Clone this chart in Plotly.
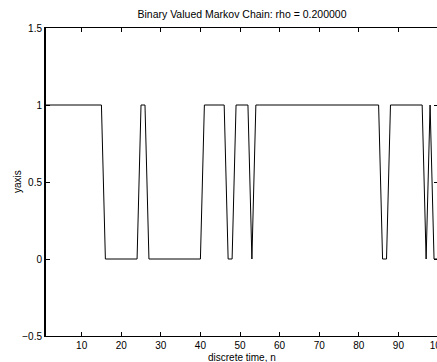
import plotly.graph_objects as go

# discrete time index
n = list(range(1, 101))

# binary Markov chain realisation
y_values = [
    1, 1, 1, 1, 1, 1, 1, 1, 1, 1,   # 1-10
    1, 1, 1, 1, 1, 0, 0, 0, 0, 0,   # 11-20
    0, 0, 0, 0, 1, 1, 0, 0, 0, 0,   # 21-30
    0, 0, 0, 0, 0, 0, 0, 0, 0, 0,   # 31-40
    1, 1, 1, 1, 1, 1, 0, 0, 1, 1,   # 41-50
    1, 1, 0, 1, 1, 1, 1, 1, 1, 1,   # 51-60
    1, 1, 1, 1, 1, 1, 1, 1, 1, 1,   # 61-70
    1, 1, 1, 1, 1, 1, 1, 1, 1, 1,   # 71-80
    1, 1, 1, 1, 1, 0, 0, 1, 1, 1,   # 81-90
    1, 1, 1, 1, 1, 1, 0, 1, 0, 0,   # 91-100
]

x_ticks = [10, 20, 30, 40, 50, 60, 70, 80, 90, 100]
y_ticks = [-0.5, 0, 0.5, 1, 1.5]
y_tick_text = ["\u22120.5", "0", "0.5", "1", "1.5"]

title_text = "Binary Valued Markov Chain: rho = 0.200000"
x_title = "discrete time, n"
y_title = "yaxis"

FONT = "Liberation Sans, Arial, Helvetica, sans-serif"
FS = 10

fig = go.Figure()
fig.add_trace(go.Scatter(
    x=n, y=y_values, mode="lines",
    line=dict(color="black", width=1),
    showlegend=False, hoverinfo="skip",
))

fig.update_layout(
    width=478, height=362,
    margin=dict(l=46, r=40, t=28, b=26, autoexpand=False),
    paper_bgcolor="white", plot_bgcolor="white",
    font=dict(family=FONT, size=FS, color="black"),
    title=dict(text=title_text, x=0.5, xanchor="center",
               xref="paper", y=1, yref="paper", yanchor="bottom",
               pad=dict(b=10), font=dict(size=10.5), automargin=False),
    annotations=[
        dict(text=x_title, xref="paper", yref="paper", x=0.5, y=0,
             xanchor="center", yanchor="middle", yshift=-21,
             showarrow=False, font=dict(size=FS)),
        dict(text=y_title, xref="paper", yref="paper", x=0, y=0.5,
             xanchor="center", yanchor="middle", xshift=-29,
             textangle=-90, showarrow=False, font=dict(size=FS)),
    ],
)
fig.update_xaxes(
    range=[1, 100], tickvals=x_ticks, ticks="inside", ticklen=4,
    tickcolor="black", showline=True, linecolor="black", linewidth=1,
    mirror="ticks", showgrid=False, zeroline=False, automargin=False,
    tickfont=dict(size=FS),
)
fig.update_yaxes(
    range=[-0.5, 1.5], tickvals=y_ticks, ticktext=y_tick_text,
    ticks="inside", ticklen=4, tickcolor="black", showline=True,
    linecolor="black", linewidth=2, tickwidth=1, mirror="ticks",
    showgrid=False, zeroline=False, automargin=False,
    tickfont=dict(size=FS),
)

fig.write_html(
    "out.html",
    config={"displayModeBar": False},
    post_script="document.documentElement.style.overflow='hidden';"
                "document.body.style.overflow='hidden';"
                "document.body.style.margin='0';",
)
